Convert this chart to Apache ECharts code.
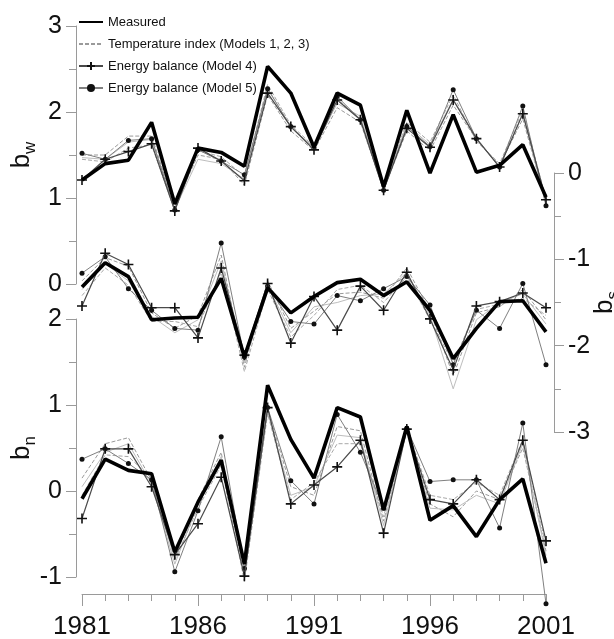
<!DOCTYPE html>
<html><head><meta charset="utf-8">
<script src="https://cdn.jsdelivr.net/npm/echarts@6/dist/echarts.min.js"></script>
<style>html,body{margin:0;padding:0;background:#fff}#c{width:614px;height:639px}</style>
</head><body><div id="c"></div>
<script>
// ---------- data ----------
const years = ['1981','1982','1983','1984','1985','1986','1987','1988','1989','1990','1991',
               '1992','1993','1994','1995','1996','1997','1998','1999','2000','2001'];

// b_w panel
const bwMeasured = [1.21,1.40,1.44,1.88,0.93,1.58,1.53,1.37,2.53,2.22,1.59,2.22,2.08,1.13,2.02,1.29,1.97,1.30,1.38,1.62,1.01];
const bwTemp1    = [1.50,1.50,1.72,1.72,0.90,1.50,1.45,1.15,2.20,1.78,1.55,2.05,1.88,1.10,1.78,1.55,2.08,1.68,1.38,1.92,0.95];
const bwTemp2    = [1.47,1.45,1.65,1.68,0.87,1.45,1.40,1.22,2.28,1.82,1.58,2.10,1.95,1.12,1.85,1.62,2.15,1.70,1.36,1.98,0.92];
const bwTemp3    = [1.45,1.42,1.58,1.62,0.85,1.55,1.48,1.25,2.32,1.85,1.60,2.15,1.92,1.14,1.88,1.65,2.20,1.66,1.40,2.02,0.98];
const bwModel4   = [1.21,1.45,1.54,1.63,0.85,1.58,1.43,1.20,2.22,1.83,1.56,2.14,1.91,1.09,1.81,1.59,2.14,1.69,1.36,1.98,0.98];
const bwModel5   = [1.52,1.45,1.67,1.69,0.86,1.56,1.43,1.27,2.27,1.83,1.58,2.18,1.91,1.09,1.83,1.60,2.26,1.69,1.36,2.07,0.91];

// b_s panel
const bsMeasured = [-1.32,-1.04,-1.20,-1.70,-1.68,-1.67,-1.22,-2.13,-1.33,-1.62,-1.43,-1.27,-1.23,-1.42,-1.26,-1.59,-2.15,-1.80,-1.49,-1.48,-1.84];
const bsTemp1    = [-1.25,-0.98,-1.08,-1.62,-1.80,-1.65,-0.95,-2.25,-1.25,-1.80,-1.60,-1.40,-1.38,-1.45,-1.10,-1.60,-2.35,-1.62,-1.55,-1.35,-1.70];
const bsTemp2    = [-1.35,-1.05,-1.25,-1.66,-1.85,-1.70,-1.02,-2.20,-1.30,-1.85,-1.55,-1.50,-1.42,-1.40,-1.15,-1.65,-2.50,-1.70,-1.50,-1.40,-1.75];
const bsTemp3    = [-1.42,-1.10,-1.30,-1.72,-1.72,-1.78,-1.15,-2.30,-1.35,-1.90,-1.65,-1.35,-1.30,-1.50,-1.20,-1.70,-2.20,-1.58,-1.52,-1.45,-1.65];
const bsModel4   = [-1.54,-0.93,-1.06,-1.56,-1.56,-1.91,-1.10,-2.11,-1.28,-1.97,-1.43,-1.82,-1.31,-1.59,-1.15,-1.69,-2.28,-1.54,-1.49,-1.39,-1.56];
const bsModel5   = [-1.16,-0.97,-1.34,-1.59,-1.80,-1.82,-0.81,-2.13,-1.31,-1.72,-1.75,-1.42,-1.48,-1.34,-1.20,-1.53,-2.22,-1.59,-1.80,-1.28,-2.22];

// b_n panel
const bnMeasured = [-0.09,0.37,0.24,0.20,-0.71,-0.13,0.36,-0.85,1.23,0.60,0.15,0.97,0.86,-0.22,0.75,-0.34,-0.17,-0.53,-0.10,0.14,-0.84];
const bnTemp1    = [0.15,0.55,0.62,0.12,-0.78,-0.10,0.45,-1.00,0.95,0.05,-0.05,0.75,0.70,-0.35,0.72,-0.15,-0.30,0.00,-0.10,0.50,-0.70];
const bnTemp2    = [0.05,0.45,0.55,0.08,-0.85,-0.15,0.40,-0.92,0.92,-0.05,0.05,0.65,0.62,-0.40,0.70,-0.20,-0.22,-0.05,-0.15,0.55,-0.75];
const bnTemp3    = [-0.05,0.42,0.40,0.15,-0.80,-0.20,0.30,-1.05,0.90,-0.10,0.10,0.55,0.55,-0.30,0.74,-0.05,-0.10,0.10,-0.05,0.60,-0.65];
const bnModel4   = [-0.32,0.49,0.49,0.05,-0.74,-0.38,0.16,-0.99,0.97,-0.15,0.07,0.28,0.59,-0.49,0.72,-0.10,-0.15,0.13,-0.10,0.59,-0.58];
const bnModel5   = [0.37,0.49,0.32,0.13,-0.94,-0.23,0.63,-0.90,0.97,0.12,-0.15,0.89,0.45,-0.20,0.73,0.11,0.13,0.13,-0.43,0.79,-1.31];

const yTicksW = [0, 3], yTicksS = [-3, 0], yTicksN = [-1, 2];

// ---------- chart ----------
const NAME_M = 'Measured';
const NAME_T = 'Temperature index (Models 1, 2, 3)';
const NAME_4 = 'Energy balance (Model 4)';
const NAME_5 = 'Energy balance (Model 5)';
const PLUS = 'path://M0,5L10,5M5,0L5,10';
const FONT = 'Liberation Sans, Arial, sans-serif';

function panelSeries(gi, meas, t1, t2, t3, m4, m5) {
  const base = {type:'line', xAxisIndex:gi, yAxisIndex:gi, clip:false, animation:false};
  const temp = (d, col, dash) => Object.assign({}, base, {
    name: NAME_T, data: d, symbol:'none', z:2,
    lineStyle:{color:col, width:1, type: dash ? [4,2] : 'solid'}, itemStyle:{color:col}
  });
  return [
    temp(t1, '#9a9a9a', true),
    temp(t2, '#bdbdbd', false),
    temp(t3, '#a8a8a8', true),
    Object.assign({}, base, {name:NAME_5, data:m5, symbol:'circle', symbolSize:5, z:3,
      lineStyle:{color:'#808080', width:1}, itemStyle:{color:'#111', borderWidth:0}}),
    Object.assign({}, base, {name:NAME_4, data:m4, symbol:PLUS, symbolSize:10, z:4,
      lineStyle:{color:'#4a4a4a', width:1.2}, itemStyle:{color:'#111', borderColor:'#111', borderWidth:1.6}}),
    Object.assign({}, base, {name:NAME_M, data:meas, symbol:'none', z:5,
      lineStyle:{color:'#000', width:3.6}, itemStyle:{color:'#000'}})
  ];
}

function yAx(gi, pos, range, sub, gap) {
  return {
    gridIndex:gi, type:'value', position:pos, offset: pos === 'left' ? 6 : 8,
    min:range[0], max:range[1], interval:1,
    axisLine:{show:true, onZero:false, lineStyle:{color:'#9a9a9a', width:1}},
    axisTick:{show:true, length:10, lineStyle:{color:'#9a9a9a'}},
    minorTick:{show:true, splitNumber:2, length:7, lineStyle:{color:'#9a9a9a'}},
    splitLine:{show:false},
    axisLabel:{fontSize:25, color:'#111', fontFamily:FONT, margin:14},
    name:'{b|b}{s|' + sub + '}', nameLocation:'middle', nameRotate:90, nameGap:gap,
    nameMoveOverlap:false,
    nameTextStyle:{rich:{
      b:{fontSize:26, fontFamily:FONT, color:'#111', lineHeight:34},
      s:{fontSize:17, fontFamily:FONT, color:'#111', verticalAlign:'bottom', lineHeight:17}
    }}
  };
}

function xHidden(gi) {
  return {gridIndex:gi, type:'category', data:years, boundaryGap:false, show:false};
}

const grid = [
  {left:82, right:68, top:26, height:258, outerBoundsMode:'none', containLabel:false},
  {left:82, right:68, top:173, height:259, outerBoundsMode:'none', containLabel:false},
  {left:82, right:68, top:319, height:258, outerBoundsMode:'none', containLabel:false}
];

const option = {
  animation:false,
  backgroundColor:'#fff',
  grid: grid,
  legend: {
    orient:'vertical', left:78, top:14, padding:0,
    itemWidth:24, itemHeight:10, itemGap:6,
    textStyle:{fontFamily:FONT, fontSize:13, color:'#111', lineHeight:16},
    data:[
      {name:NAME_M, itemStyle:{opacity:0}},
      {name:NAME_T, itemStyle:{opacity:0}},
      {name:NAME_4},
      {name:NAME_5}
    ]
  },
  xAxis: [
    xHidden(0), xHidden(1),
    {gridIndex:2, type:'category', data:years, boundaryGap:false, position:'bottom', offset:17,
      axisLine:{show:true, onZero:false, lineStyle:{color:'#9a9a9a'}},
      axisTick:{show:true, interval:0, length:7, lineStyle:{color:'#9a9a9a'}},
      axisLabel:{show:false}, splitLine:{show:false}},
    {gridIndex:2, type:'category', data:years, boundaryGap:false, position:'bottom', offset:17,
      axisLine:{show:false, onZero:false},
      axisTick:{show:true, interval:4, length:12, lineStyle:{color:'#9a9a9a'}},
      axisLabel:{show:true, interval:4, fontSize:26, color:'#111', fontFamily:FONT, margin:20},
      splitLine:{show:false}}
  ],
  yAxis: [
    yAx(0, 'left', yTicksW, 'w', 37),
    yAx(1, 'right', yTicksS, 's', 34),
    yAx(2, 'left', yTicksN, 'n', 37)
  ],
  series: [].concat(
    panelSeries(0, bwMeasured, bwTemp1, bwTemp2, bwTemp3, bwModel4, bwModel5),
    panelSeries(1, bsMeasured, bsTemp1, bsTemp2, bsTemp3, bsModel4, bsModel5),
    panelSeries(2, bnMeasured, bnTemp1, bnTemp2, bnTemp3, bnModel4, bnModel5)
  )
};

const chart = echarts.init(document.getElementById('c'));
chart.setOption(option);
</script></body></html>
